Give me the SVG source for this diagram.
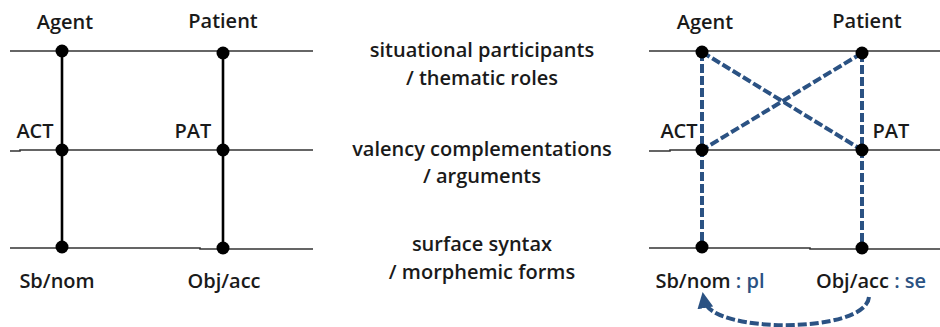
<svg xmlns="http://www.w3.org/2000/svg" width="940" height="327" viewBox="0 0 940 327">
<defs>
<style>
.t{font-family:"Open Sans","Liberation Sans",sans-serif;font-size:20px;font-weight:600;fill:#1a1a1a;text-anchor:middle}
.b{fill:#2b5283}
.h{stroke:#333;stroke-width:1.6;fill:none}
.v{stroke:#000;stroke-width:2.6}
.d{stroke:#2b5283;stroke-width:4;stroke-dasharray:9 3;fill:none}
.dot{fill:#000}
</style>
<marker id="ah" viewBox="0 0 10 10" refX="5" refY="5" markerWidth="4" markerHeight="4" orient="auto">
<path d="M0,0 L10,5 L0,10 z" fill="#2b5283"/>
</marker>
</defs>
<rect width="940" height="327" fill="#fff"/>
<g id="levels">
<path class="h" d="M10,51 H313"/>
<path class="h" d="M10,151 H20 V150 H313"/>
<path class="h" d="M10,248 H200 V249 H313"/>
<path class="h" d="M649,51 H940"/>
<path class="h" d="M649,151 H670 V150 H940"/>
<path class="h" d="M649,248 H810 V249 H940"/>
</g>
<g id="connectors">
<line class="v" x1="62" y1="51" x2="62" y2="247"/>
<line class="v" x1="223" y1="53" x2="223" y2="248"/>
<line class="d" x1="702" y1="52" x2="702" y2="247"/>
<line class="d" x1="862" y1="53" x2="862" y2="248"/>
<line class="d" x1="702" y1="52" x2="862" y2="150"/>
<line class="d" x1="862" y1="53" x2="702" y2="150"/>
<path class="d" d="M869,297 C866,334 710,334 704,300" stroke-width="3.5" stroke-dasharray="3 2" marker-end="url(#ah)"/>
</g>
<g id="left-agent"><circle class="dot" cx="62" cy="51" r="6.5"/><text class="t" x="65" y="29">Agent</text></g>
<g id="left-patient"><circle class="dot" cx="223" cy="53" r="6.5"/><text class="t" x="223" y="28">Patient</text></g>
<g id="left-act"><circle class="dot" cx="62" cy="150" r="6.5"/><text class="t" x="35" y="138">ACT</text></g>
<g id="left-pat"><circle class="dot" cx="223" cy="150" r="6.5"/><text class="t" x="193" y="138">PAT</text></g>
<g id="left-sb"><circle class="dot" cx="62" cy="247" r="6.5"/><text class="t" x="57" y="288">Sb/nom</text></g>
<g id="left-obj"><circle class="dot" cx="223" cy="248" r="6.5"/><text class="t" x="224" y="288">Obj/acc</text></g>
<g id="mid-labels">
<text class="t" x="482" y="57">situational participants</text>
<text class="t" x="482" y="85">/ thematic roles</text>
<text class="t" x="482" y="156">valency complementations</text>
<text class="t" x="482" y="183">/ arguments</text>
<text class="t" x="482" y="251">surface syntax</text>
<text class="t" x="482" y="279">/ morphemic forms</text>
</g>
<g id="right-agent"><circle class="dot" cx="702" cy="52" r="6.5"/><text class="t" x="705" y="29">Agent</text></g>
<g id="right-patient"><circle class="dot" cx="862" cy="53" r="6.5"/><text class="t" x="867" y="28">Patient</text></g>
<g id="right-act"><circle class="dot" cx="702" cy="150" r="6.5"/><text class="t" x="679" y="138">ACT</text></g>
<g id="right-pat"><circle class="dot" cx="862" cy="150" r="6.5"/><text class="t" x="891" y="138">PAT</text></g>
<g id="right-sb"><circle class="dot" cx="702" cy="247" r="6.5"/><text class="t" x="710" y="288">Sb/nom<tspan class="b"> : pl</tspan></text></g>
<g id="right-obj"><circle class="dot" cx="862" cy="248" r="6.5"/><text class="t" x="871" y="288">Obj/acc<tspan class="b"> : se</tspan></text></g>
</svg>
